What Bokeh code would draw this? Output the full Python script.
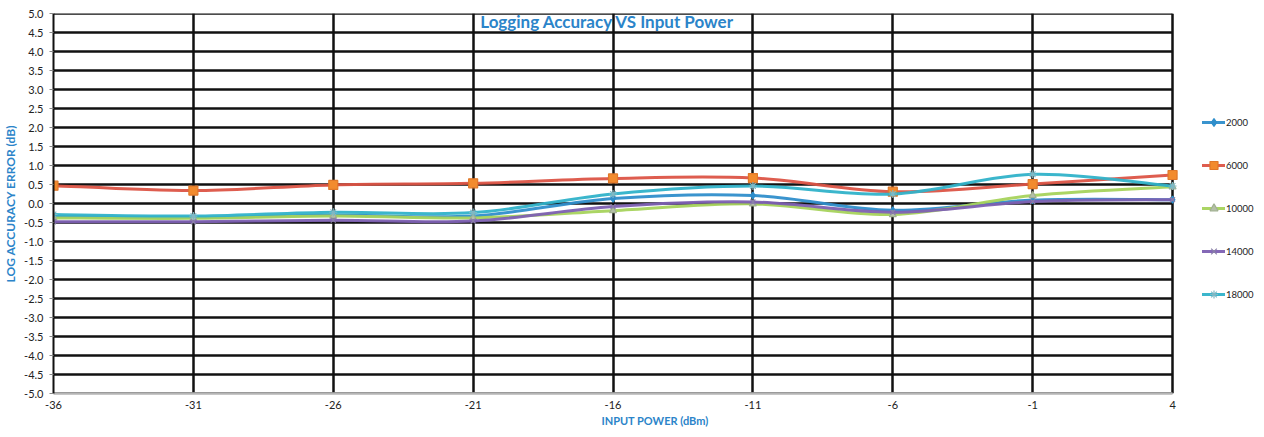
from bokeh.plotting import figure
from bokeh.models import (ColumnDataSource, FixedTicker, PrintfTickFormatter, Legend,
                          LegendItem, Label, Range1d)
from bokeh.embed import file_html
from bokeh.resources import INLINE

# ---- data -------------------------------------------------------------
x_power = [-36, -31, -26, -21, -16, -11, -6, -1, 4]
err_2000 = [-0.34, -0.37, -0.30, -0.33, 0.13, 0.21, -0.18, 0.09, 0.10]
err_6000 = [0.47, 0.34, 0.49, 0.53, 0.66, 0.67, 0.31, 0.51, 0.75]
err_10000 = [-0.38, -0.39, -0.33, -0.38, -0.19, -0.01, -0.29, 0.21, 0.44]
err_14000 = [-0.48, -0.48, -0.44, -0.46, -0.08, 0.04, -0.23, 0.05, 0.10]
err_18000 = [-0.29, -0.33, -0.23, -0.24, 0.25, 0.46, 0.25, 0.77, 0.46]
series_names = ["2000", "6000", "10000", "14000", "18000"]
x_ticks = [-36, -31, -26, -21, -16, -11, -6, -1, 4]
y_ticks = [v / 2 for v in range(-10, 11)]

title_text = "Logging Accuracy VS Input Power"
x_title = "INPUT POWER (dBm)"
y_title = "LOG ACCURACY ERROR (dB)"

# ---- styles -----------------------------------------------------------
styles = [
    dict(line="#2f8ecb", marker="diamond", fill="#2f8ecb", mline="#2f8ecb", size=7),
    dict(line="#dc5446", marker="square", fill="#f28b2e", mline="#e0782a", size=9),
    dict(line="#a6d35c", marker="triangle", fill="#b4bfa8", mline="#a0b090", size=7),
    dict(line="#7d60b2", marker="x", fill="#7d60b2", mline="#8a80a8", size=7),
    dict(line="#30b2c9", marker="asterisk", fill="#30b2c9", mline="#7fb8c4", size=8),
]
blue_text = "#2b84c9"
x_lo, x_hi = x_ticks[0], x_ticks[-1]
legend_room = 3  # extra x-range (dB) to the right that holds the legend


def bezier_source(xs, ys, k=1.0 / 6.0):
    n = len(xs)
    d = dict(x0=[], y0=[], x1=[], y1=[], cx0=[], cy0=[], cx1=[], cy1=[])
    for i in range(n - 1):
        a = i - 1 if i > 0 else i
        b = i + 2 if i + 2 < n else i + 1
        d["x0"].append(xs[i]); d["y0"].append(ys[i])
        d["x1"].append(xs[i + 1]); d["y1"].append(ys[i + 1])
        d["cx0"].append(xs[i] + (xs[i + 1] - xs[a]) * k)
        d["cy0"].append(ys[i] + (ys[i + 1] - ys[a]) * k)
        d["cx1"].append(xs[i + 1] - (xs[b] - xs[i]) * k)
        d["cy1"].append(ys[i + 1] - (ys[b] - ys[i]) * k)
    return ColumnDataSource(d)


p = figure(width=1256, height=435, output_backend="svg", toolbar_location=None,
           x_range=Range1d(x_lo, x_hi + legend_room), y_range=Range1d(-5, 5),
           min_border_left=53, min_border_right=0, min_border_top=13,
           min_border_bottom=42)
p.outline_line_color = None
p.background_fill_color = "white"
p.border_fill_color = "white"

# grid: vertical lines from the grid, horizontal lines only across the data span
p.xgrid.ticker = FixedTicker(ticks=x_ticks)
p.xgrid.grid_line_color = "#111111"
p.xgrid.grid_line_width = 2.5
p.ygrid.visible = False
p.segment(x0=[x_lo] * len(y_ticks), x1=[x_hi] * len(y_ticks), y0=y_ticks, y1=y_ticks,
          line_color="#111111", line_width=2.5, level="underlay")

# axes
p.xaxis.ticker = FixedTicker(ticks=x_ticks)
p.xaxis.formatter = PrintfTickFormatter(format="%d")
p.xaxis.bounds = (x_lo, x_hi)
p.yaxis.ticker = FixedTicker(ticks=y_ticks)
p.yaxis.formatter = PrintfTickFormatter(format="%.1f")
for ax in (p.xaxis, p.yaxis):
    ax.major_label_text_font = "Lato"
    ax.major_label_text_font_size = "11px"
    ax.major_label_text_color = "#222222"
    ax.minor_tick_line_color = None
    ax.axis_label_text_font = "Lato"
    ax.axis_label_text_font_style = "bold"
    ax.axis_label_text_color = blue_text
p.yaxis.axis_label_text_font_size = "12px"
p.xaxis.axis_label_text_font_size = "11px"
p.yaxis.axis_line_color = "#111111"
p.yaxis.axis_line_width = 2
p.yaxis.major_tick_line_color = "#888888"
p.yaxis.major_tick_in = 0
p.yaxis.major_tick_out = 4
p.yaxis.major_label_standoff = 6
p.yaxis.axis_label = y_title
p.yaxis.axis_label_standoff = 3
p.xaxis.axis_line_color = "#b5b5b5"
p.xaxis.axis_line_width = 2.5
p.xaxis.major_tick_line_color = None
p.xaxis.major_tick_in = 0
p.xaxis.major_tick_out = 0
p.xaxis.major_label_standoff = 7
p.xaxis.axis_label = x_title
p.xaxis.axis_label_standoff = 2

# series
all_series = [err_2000, err_6000, err_10000, err_14000, err_18000]
items = []
for name, ys, st in zip(series_names, all_series, styles):
    src = bezier_source(x_power, ys)
    r_line = p.bezier(x0="x0", y0="y0", x1="x1", y1="y1", cx0="cx0", cy0="cy0",
                      cx1="cx1", cy1="cy1", source=src, line_color=st["line"],
                      line_width=3, line_alpha=0.95, line_cap="round")
    r_pts = p.scatter(x_power, ys, marker=st["marker"], size=st["size"],
                      fill_color=st["fill"], line_color=st["mline"], line_width=1.2)
    items.append(LegendItem(label=name, renderers=[r_line, r_pts]))

legend = Legend(items=items, location=(1149, 89), orientation="vertical",
                glyph_width=23, glyph_height=20, spacing=23, padding=0, margin=0,
                label_standoff=1, label_text_font="Lato", label_text_font_size="9.5px",
                label_text_color="#222222", border_line_color=None,
                background_fill_alpha=0)
p.add_layout(legend)

title = Label(x=-16.2, y=4.8, text=title_text, text_font="Lato", text_font_style="bold",
              text_font_size="17px", text_color=blue_text, text_align="center",
              text_baseline="middle")
p.add_layout(title)

open("out.html", "w").write(file_html(p, INLINE))
